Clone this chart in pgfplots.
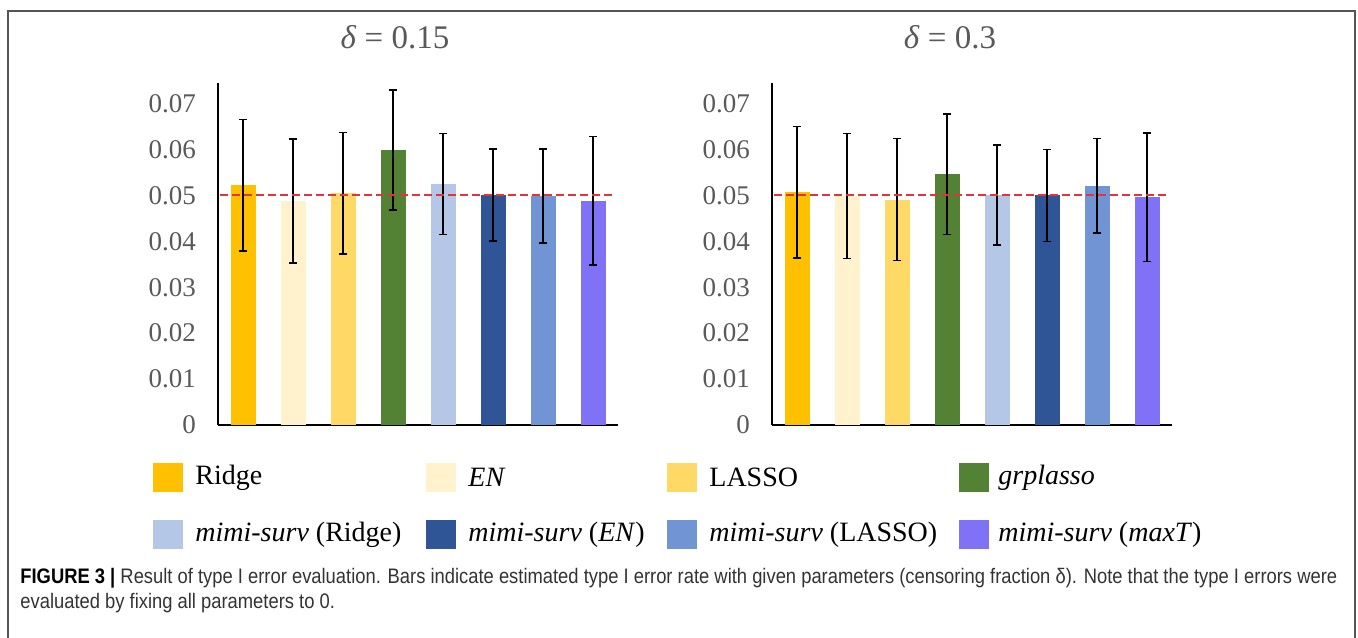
\documentclass[border=0pt]{standalone}
\usepackage{fontspec}
\setmainfont{Liberation Serif}
\newfontfamily\capfont{Liberation Sans}
\usepackage{pgfplots}
\pgfplotsset{compat=1.18}
\definecolor{cRidge}{HTML}{FFC000}
\definecolor{cEN}{HTML}{FFF2CC}
\definecolor{cLASSO}{HTML}{FFD966}
\definecolor{cGrp}{HTML}{548235}
\definecolor{cMR}{HTML}{B4C7E7}
\definecolor{cMEN}{HTML}{2F5597}
\definecolor{cML}{HTML}{7094D4}
\definecolor{cMT}{HTML}{7F72F6}
\definecolor{tickgray}{HTML}{595959}
\definecolor{dashred}{HTML}{E0353A}
\definecolor{framegray}{HTML}{555555}
\definecolor{capgray}{HTML}{333333}
\pgfplotsset{
  panel/.style={
    anchor=south west, scale only axis, width=200pt, height=171pt,
    xmin=-0.5, xmax=7.5, ymin=0, ymax=0.0745,
    axis x line=bottom, axis y line=left,
    axis line style={black, line width=0.9pt, -},
    xtick=\empty,
    scaled y ticks=false,
    ytick={0,0.01,0.02,0.03,0.04,0.05,0.06,0.07},
    yticklabels={0,0.01,0.02,0.03,0.04,0.05,0.06,0.07},
    major tick length=0pt,
    yticklabel style={font=\fontsize{13.5}{15}\selectfont, text=tickgray, xshift=-7.5pt},
    clip=false,
  },
  mybar/.style={ybar, bar width=12.5pt, bar shift=0pt, draw=none, fill=#1,
    error bars/y dir=both, error bars/y explicit,
    error bars/error bar style={draw=black, line width=0.75pt, solid},
    error bars/error mark options={rotate=90, draw=black, line width=0.75pt, mark size=2pt, solid}},
  refline/.style={color=dashred, line width=1pt, dash pattern=on 4pt off 2pt, forget plot},
}
\begin{document}
\begin{tikzpicture}
\useasboundingbox (0,0) rectangle (679pt,-318.5pt);
\draw[framegray, line width=0.8pt] (4pt,-330pt) -- (4pt,-5.5pt) -- (677.5pt,-5.5pt) -- (677.5pt,-330pt);
% titles
\node[text=tickgray, font=\fontsize{16.5}{18}\selectfont] at (197.5pt,-18.5pt) {\textit{δ} = 0.15};
\node[text=tickgray, font=\fontsize{16.5}{18}\selectfont] at (475pt,-18.5pt) {\textit{δ} = 0.3};
% left panel
\begin{axis}[panel, at={(109pt,-212.5pt)}]
\addplot[mybar=cRidge] coordinates {(0,0.0522) +- (0,0.0143)};
\addplot[mybar=cEN]    coordinates {(1,0.0488) +- (0,0.0135)};
\addplot[mybar=cLASSO] coordinates {(2,0.0505) +- (0,0.0132)};
\addplot[mybar=cGrp]   coordinates {(3,0.0599) +- (0,0.0131)};
\addplot[mybar=cMR]    coordinates {(4,0.0525) +- (0,0.0110)};
\addplot[mybar=cMEN]   coordinates {(5,0.0501) +- (0,0.0100)};
\addplot[mybar=cML]    coordinates {(6,0.0499) +- (0,0.0102)};
\addplot[mybar=cMT]    coordinates {(7,0.0488) +- (0,0.0140)};
\addplot[refline] coordinates {(-0.46,0.05) (7.38,0.05)};
\end{axis}
% right panel
\begin{axis}[panel, at={(386pt,-212.5pt)}]
\addplot[mybar=cRidge] coordinates {(0,0.0507) +- (0,0.0143)};
\addplot[mybar=cEN]    coordinates {(1,0.0499) +- (0,0.0136)};
\addplot[mybar=cLASSO] coordinates {(2,0.0491) +- (0,0.0133)};
\addplot[mybar=cGrp]   coordinates {(3,0.0546) +- (0,0.0131)};
\addplot[mybar=cMR]    coordinates {(4,0.0501) +- (0,0.0109)};
\addplot[mybar=cMEN]   coordinates {(5,0.0500) +- (0,0.0100)};
\addplot[mybar=cML]    coordinates {(6,0.0521) +- (0,0.0103)};
\addplot[mybar=cMT]    coordinates {(7,0.0496) +- (0,0.0140)};
\addplot[refline] coordinates {(-0.46,0.05) (7.38,0.05)};
\end{axis}
% legend
\begin{scope}[font=\fontsize{14}{16}\selectfont]
\fill[cRidge] (76.5pt,-231.5pt) rectangle ++(15pt,-14.5pt);
\node[anchor=west, inner sep=0pt] at (97.5pt,-238.75pt) {Ridge};
\fill[cEN] (213pt,-231.5pt) rectangle ++(15pt,-14.5pt);
\node[anchor=west, inner sep=0pt] at (234pt,-238.75pt) {\textit{EN}};
\fill[cLASSO] (333.5pt,-231.5pt) rectangle ++(15pt,-14.5pt);
\node[anchor=west, inner sep=0pt] at (354.5pt,-238.75pt) {LASSO};
\fill[cGrp] (479.5pt,-231.5pt) rectangle ++(15pt,-14.5pt);
\node[anchor=west, inner sep=0pt] at (499pt,-238.75pt) {\textit{grplasso}};
\fill[cMR] (76.5pt,-260pt) rectangle ++(15pt,-14.5pt);
\node[anchor=west, inner sep=0pt] at (97.5pt,-267.25pt) {\textit{mimi-surv} (Ridge)};
\fill[cMEN] (213pt,-260pt) rectangle ++(15pt,-14.5pt);
\node[anchor=west, inner sep=0pt] at (234pt,-267.25pt) {\textit{mimi-surv} (\textit{EN})};
\fill[cML] (333.5pt,-260pt) rectangle ++(15pt,-14.5pt);
\node[anchor=west, inner sep=0pt] at (354.5pt,-267.25pt) {\textit{mimi-surv} (LASSO)};
\fill[cMT] (479.5pt,-260pt) rectangle ++(15pt,-14.5pt);
\node[anchor=west, inner sep=0pt] at (499pt,-267.25pt) {\textit{mimi-surv} (\textit{maxT})};
\end{scope}
% caption
\node[anchor=base west, inner sep=0pt, text=capgray] at (10pt,-291.5pt) {\scalebox{0.875}[1]{\capfont\fontsize{10.5}{12}\selectfont\textbf{\textcolor{black}{FIGURE 3 |}} Result of type I error evaluation. Bars indicate estimated type I error rate with given parameters (censoring fraction δ). Note that the type I errors were}};
\node[anchor=base west, inner sep=0pt, text=capgray] at (10pt,-304pt) {\scalebox{0.875}[1]{\capfont\fontsize{10.5}{12}\selectfont evaluated by fixing all parameters to 0.}};
\end{tikzpicture}
\end{document}
